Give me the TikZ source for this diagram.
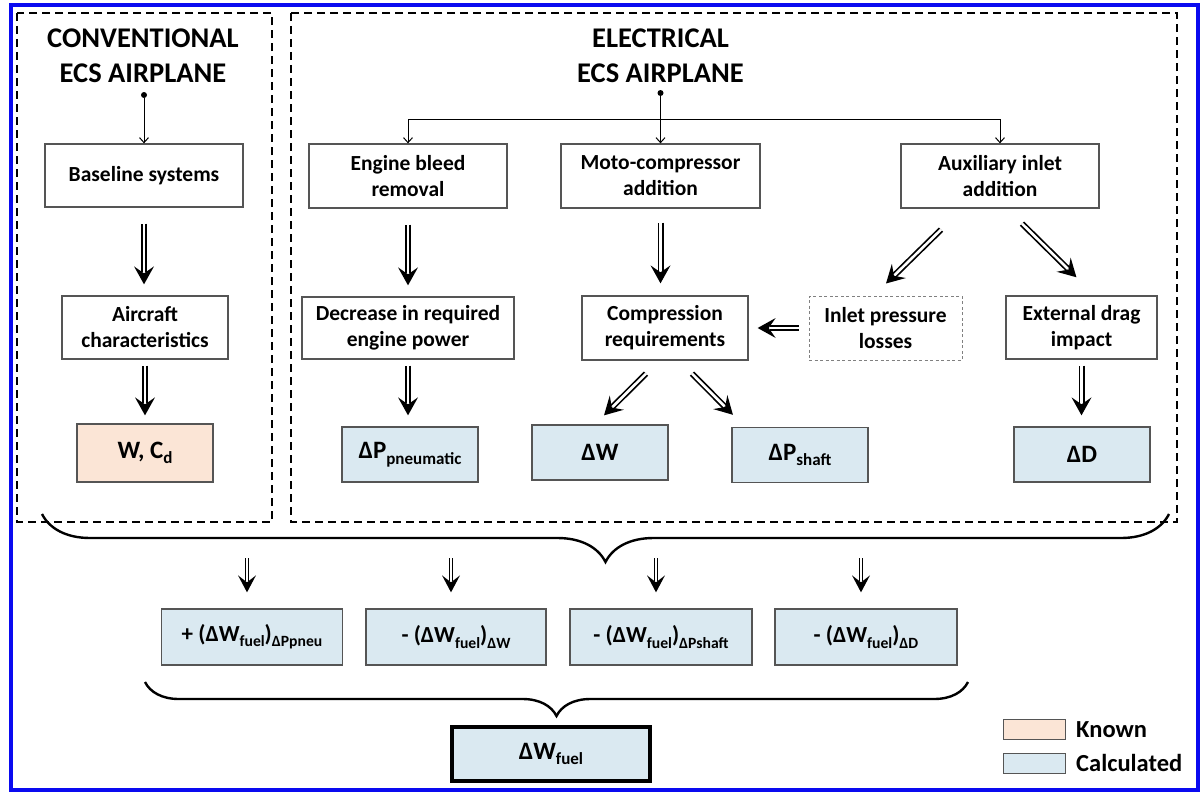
\documentclass[tikz,border=0pt]{standalone}
\usepackage{fontspec}
\setmainfont{Carlito}
\usetikzlibrary{arrows.meta,decorations.pathreplacing,decorations.markings,calc}
\definecolor{calcblue}{HTML}{DAE9F1}
\definecolor{knownpeach}{HTML}{FBE5D6}
\definecolor{boxgray}{HTML}{555555}
\definecolor{frameblue}{HTML}{0A0AF0}
\newcommand\lsub[1]{\raisebox{-0.22em}{\scalebox{0.68}{#1}}}
\begin{document}
\begin{tikzpicture}[x=1pt,y=-1pt,
  box/.style={draw=boxgray, line width=1.3pt, fill=white, align=center, inner sep=0pt,
    font=\fontsize{21.5}{26}\selectfont\bfseries},
  calcbox/.style={box, fill=calcblue, font=\fontsize{25}{28}\selectfont\bfseries},
  knownbox/.style={box, fill=knownpeach, font=\fontsize{25}{28}\selectfont\bfseries},
  formula/.style={calcbox, font=\fontsize{23}{26}\selectfont\bfseries},
  inletbox/.style={box, draw=gray, line width=1pt, dash pattern=on 3pt off 2.5pt},
  container/.style={draw=black, line width=1.8pt, dash pattern=on 8pt off 5pt},
  titletext/.style={align=center, font=\fontsize{28.5}{35}\selectfont\bfseries},
  legendtext/.style={anchor=west, inner sep=0pt, font=\fontsize{24.5}{26}\selectfont\bfseries},
  dotnode/.style={circle, fill=black, inner sep=0pt, minimum size=6pt},
  dbl/.style={double=white, double distance=2.6pt, line width=1.7pt, shorten >=12pt,
    postaction={decorate, decoration={markings, mark=at position 1 with
      {\fill[black] (0pt,0pt) -- (-18pt,10pt) -- (-11pt,0pt) -- (-18pt,-10pt) -- cycle;}}}},
  sdbl/.style={double=white, double distance=2pt, line width=1.3pt, shorten >=11pt,
    postaction={decorate, decoration={markings, mark=at position 1 with
      {\fill[black] (0pt,0pt) -- (-17pt,9pt) -- (-10pt,0pt) -- (-17pt,-9pt) -- cycle;}}}},
  tarr/.style={line width=1pt, -{Straight Barb[length=5pt,width=9pt]}},
  curly/.style={decorate, decoration={brace, mirror, amplitude=#1}, line width=2.4pt}
]
% canvas and frame
\fill[white] (0,0) rectangle (1204,792);
\useasboundingbox (0,0) rectangle (1204,792);
\draw[frameblue, line width=4.5pt] (11,5) rectangle (1198,790);

% containers
\draw[container] (17,13) rectangle (272,522);
\draw[container] (291,13) rectangle (1177,522);

% left column
\node[titletext] (convtitle) at (143,55.5) {CONVENTIONAL\\ECS AIRPLANE};
\node[dotnode] (dot1) at (144,95) {};
\node[box, minimum width=198, minimum height=63] (base) at (144,175.5) {Baseline systems};
\node[box, minimum width=166, minimum height=63] (aircraft) at (145,327.5) {Aircraft\\characteristics};
\node[knownbox, minimum width=136, minimum height=58] (wcd) at (145,453) {W, C\lsub{d}};

% right part
\node[titletext] (eltitle) at (660.5,55.5) {ELECTRICAL\\ECS AIRPLANE};
\node[dotnode] (dot2) at (660.5,93) {};
\coordinate (split) at (660.5,119);
\node[box, minimum width=198, minimum height=64] (bleed) at (408,176) {Engine bleed\\removal};
\node[box, minimum width=199, minimum height=64] (moto) at (660.5,176) {Moto-compressor\\addition};
\node[box, minimum width=198, minimum height=64] (aux) at (1000,176) {Auxiliary inlet\\addition};
\node[box, minimum width=212, minimum height=62] (decr) at (408,328) {Decrease in required\\engine power};
\node[box, minimum width=166, minimum height=64] (compr) at (665,328) {Compression\\requirements};
\node[inletbox, minimum width=153, minimum height=64] (inlet) at (885.5,328) {Inlet pressure\\losses};
\node[box, minimum width=151, minimum height=63] (ext) at (1081.5,327.5) {External drag\\impact};
\node[calcbox, minimum width=136, minimum height=55] (dpp) at (410,454.5) {ΔP\lsub{pneumatic}};
\node[calcbox, minimum width=136, minimum height=55] (dw) at (600,452.5) {ΔW};
\node[calcbox, minimum width=136, minimum height=55] (dps) at (800,455) {ΔP\lsub{shaft}};
\node[calcbox, minimum width=136, minimum height=55] (dd) at (1082,454.5) {ΔD};

% connectors, top
\draw[tarr] (dot1) -- (base.north);
\draw[line width=1pt] (dot2) -- (split);
\draw[tarr] (split) -- (moto.north);
\draw[tarr] (split) -| (bleed.north);
\draw[tarr] (split) -| (aux.north);

\draw[dbl] ($(base.south)+(0,16)$) -- ($(base.south |- aircraft.north)+(0,-11)$);
\draw[dbl] ($(aircraft.south)+(0,6)$) -- ($(aircraft.south |- wcd.north)+(0,-8)$);
\draw[dbl] ($(bleed.south)+(0,16)$) -- ($(bleed.south |- decr.north)+(0,-11)$);
\draw[dbl] ($(decr.south)+(0,6)$) -- ($(decr.south |- dpp.north)+(0,-11)$);
\draw[dbl] ($(moto.south)+(0,14)$) -- ($(moto.south |- compr.north)+(0,-12)$);
\draw[dbl] ($(aux.south)+(-59,21)$) -- ($(inlet.north)+(0.5,-12)$);
\draw[dbl] ($(aux.south)+(22,15)$) -- ($(ext.north)+(-5,-18)$);
\draw[dbl] ($(inlet.west)+(-10,0)$) -- ($(compr.east)+(9,0)$);
\draw[dbl] ($(compr.south)+(-19,13)$) -- ($(dw.north)+(4,-9)$);
\draw[dbl] ($(compr.south)+(27,13)$) -- ($(dps.north)+(-67,-12)$);
\draw[dbl] ($(ext.south)+(0,6)$) -- ($(ext.south |- dd.north)+(0,-11)$);

% first brace
\coordinate (b1l) at (42,514);
\coordinate (b1r) at (1169,514);
\draw[curly=48pt] (b1l) -- (b1r);

% formula boxes
\node[formula, minimum width=181, minimum height=56] (f1) at (252,637) {+ (ΔW\lsub{fuel})\lsub{ΔPpneu}};
\node[formula, minimum width=180, minimum height=56] (f2) at (456,637) {- (ΔW\lsub{fuel})\lsub{ΔW}};
\node[formula, minimum width=182, minimum height=56] (f3) at (661,637) {- (ΔW\lsub{fuel})\lsub{ΔPshaft}};
\node[formula, minimum width=182, minimum height=56] (f4) at (866,637) {- (ΔW\lsub{fuel})\lsub{ΔD}};

\coordinate (t1) at (247,558);
\coordinate (t2) at (451,558);
\coordinate (t3) at (656,558);
\coordinate (t4) at (861,558);
\draw[sdbl] (t1) -- ($(t1 |- f1.north)+(0,-16)$);
\draw[sdbl] (t2) -- ($(t2 |- f2.north)+(0,-16)$);
\draw[sdbl] (t3) -- ($(t3 |- f3.north)+(0,-16)$);
\draw[sdbl] (t4) -- ($(t4 |- f4.north)+(0,-16)$);

% second brace
\coordinate (b2l) at (145,682);
\coordinate (b2r) at (968,682);
\draw[curly=34pt] (b2l) -- (b2r);

\node[calcbox, draw=black, line width=3.5pt, minimum width=198, minimum height=54] (total) at (551,754) {ΔW\lsub{fuel}};

% legend
\node[box, fill=knownpeach, line width=1pt, minimum width=62, minimum height=20] (lknown) at (1034,729.5) {};
\node[box, fill=calcblue, line width=1pt, minimum width=62, minimum height=20] (lcalc) at (1034,763) {};
\node[legendtext] (tknown) at (1076,730) {Known};
\node[legendtext] (tcalc) at (1076,763) {Calculated};
\end{tikzpicture}
\end{document}
